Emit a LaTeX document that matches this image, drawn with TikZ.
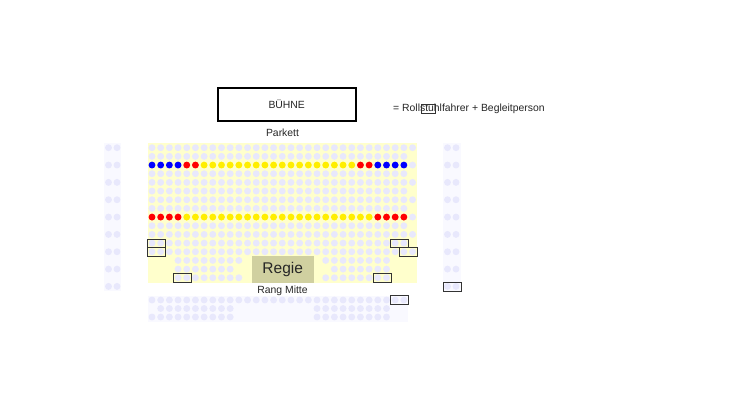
\documentclass[tikz,border=0pt]{standalone}
\usepackage{fontspec}
\setmainfont{Liberation Sans}
\definecolor{seat}{HTML}{E8E8FC}
\definecolor{parkettbg}{HTML}{FFFFCC}
\definecolor{rangbg}{HTML}{F9F9FF}
\definecolor{regiebg}{HTML}{D0D0A0}
\definecolor{gold}{HTML}{FFEE00}
\tikzset{
  label text/.style={font=\fontsize{10.4pt}{12pt}\selectfont,text=black!85,inner sep=0pt},
  wheel/.style={draw=black!80,line width=0.85pt,fill=none},
}
\newcommand{\prow}[4][seat]{\foreach \i in {#3,...,#4}{\fill[#1] ({152+8.685*\i},{147.7+8.67*#2}) circle (3.45);}}
\begin{document}
\begin{tikzpicture}[x=1pt,y=-1pt]
\useasboundingbox (0,0) rectangle (743,400);
\fill[white] (0,0) rectangle (743,400);
% backgrounds
\fill[rangbg] (104,143.3) rectangle (121,291);
\fill[rangbg] (443.3,143.3) rectangle (460.7,291);
\fill[rangbg] (148,295.5) rectangle (408,321.5);
\fill[parkettbg] (147.7,143.3) rectangle (417.3,282.7);
% parkett rows
\foreach \r in {0,4,6,10,12}{\prow{\r}{0}{30}}
\foreach \r in {1,3,5,7,9,11}{\prow{\r}{0}{29}}
\prow{2}{30}{30}
\prow{8}{30}{30}
\prow{13}{3}{10}\prow{13}{20}{27}
\prow{14}{3}{9}\prow{14}{21}{27}
\prow{15}{3}{10}\prow{15}{20}{27}
% coloured rows
\prow[blue]{2}{0}{3}\prow[red]{2}{4}{5}\prow[gold]{2}{6}{23}\prow[red]{2}{24}{25}\prow[blue]{2}{26}{29}
\prow[red]{8}{0}{3}\prow[gold]{8}{4}{25}\prow[red]{8}{26}{29}
% rang
\foreach \i in {0,...,29}{\fill[seat] ({152+8.685*\i},300) circle (3.45);}
\foreach \i in {1,...,9}{\fill[seat] ({152+8.685*\i},308.5) circle (3.45);}
\foreach \i in {0,...,9}{\fill[seat] ({152+8.685*\i},317) circle (3.45);}
\foreach \i in {19,...,27}{\fill[seat] ({152+8.685*\i},308.5) circle (3.45);\fill[seat] ({152+8.685*\i},317) circle (3.45);}
% side blocks
\foreach \r in {0,2,...,16}{
  \foreach \x in {108.5,117,447.5,456}{\fill[seat] (\x,{147.7+8.67*\r}) circle (3.45);}
}
% regie
\node[fill=regiebg,minimum width=61.6pt,minimum height=26.7pt,inner sep=0pt,anchor=north west,font=\fontsize{15.5pt}{18pt}\selectfont,text=black!85] (regie) at (251.7,256) {Regie};
% stage
\node[draw=black,line width=2pt,minimum width=138pt,minimum height=33pt,inner sep=0pt,label text] (buehne) at (286.7,104.2) {\raisebox{1pt}{BÜHNE}};
\node[label text] (parkett) at (282.5,132.6) {Parkett};
\node[label text] (rang) at (282.5,290.6) {Rang Mitte};
\node[label text,anchor=west] (legend) at (393,108.4) {= Rollstuhlfahrer + Begleitperson};
% wheelchair boxes
\draw[wheel] (421,104.8) rectangle (435,113.2);
\draw[wheel] (147.3,239) rectangle (165.3,247.7);
\draw[wheel] (147.3,247.7) rectangle (165.3,256.7);
\draw[wheel] (173.7,273.5) rectangle (191.7,282.5);
\draw[wheel] (390.7,239) rectangle (408.7,247.7);
\draw[wheel] (399.3,247.7) rectangle (417.3,256.7);
\draw[wheel] (373.3,273.5) rectangle (391.3,282.5);
\draw[wheel] (390.7,295.3) rectangle (408.7,304.6);
\draw[wheel] (443.3,282.3) rectangle (461,291);
\end{tikzpicture}
\end{document}
